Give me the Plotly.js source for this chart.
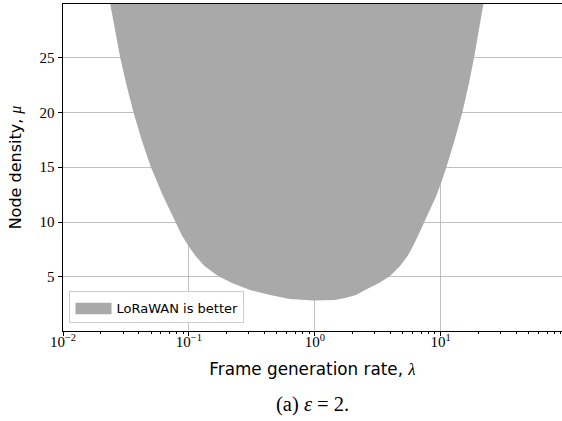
<!DOCTYPE html>
<html>
<head>
<meta charset="utf-8">
<script src="https://cdn.plot.ly/plotly-3.0.1.min.js"></script>
<style>
html,body{margin:0;padding:0;background:#fff;}
#chart{width:562px;height:421px;}
.legendfill path.js-fill{transform:scaleY(1.9);transform-box:fill-box;transform-origin:center;}
</style>
</head>
<body>
<div id="chart"></div>
<script>
// Boundary of the "LoRaWAN is better" region
// (left branch top -> bottom, then right branch bottom -> top; end points continue just above the visible top)
const lambdaBoundary = [0.02234, 0.02373, 0.02591, 0.02850, 0.03197, 0.03633, 0.04220, 0.04975, 0.06195, 0.07784,
                        0.08785, 0.09927, 0.1128, 0.1330, 0.1702, 0.2198, 0.3054, 0.4402, 0.6344, 0.9694,
                        1.449, 1.740, 2.127, 2.507, 3.237, 3.959, 4.750, 5.452, 6.029, 6.628,
                        7.409, 8.346, 9.262, 10.06, 11.12, 12.87, 14.84, 16.62, 18.38, 20.06, 21.78, 23.05];
const muBoundary     = [31.5, 29.88, 27.51, 24.98, 22.49, 20.0, 17.47, 15.04, 12.45, 10.02,
                        8.80, 7.80, 6.89, 5.98, 5.06, 4.43, 3.79, 3.33, 2.98, 2.83,
                        2.87, 3.06, 3.33, 3.79, 4.43, 5.06, 5.98, 6.89, 7.80, 8.80,
                        10.02, 11.27, 12.45, 13.55, 15.04, 17.47, 20.0, 22.49, 24.98, 27.51, 29.88, 31.5];
const seriesName = "LoRaWAN is better";
const xTickVals = [0.01, 0.1, 1, 10];
const xTickText = ["10<sup>−2</sup>", "10<sup>−1</sup>", "10<sup>0</sup>", "10<sup>1</sup>"];
const yTickVals = [5, 10, 15, 20, 25];
const xTitle = "Frame generation rate, <i style=\"font-family:'Liberation Serif'\">λ</i>";
const yTitle = "Node density, <i style=\"font-family:'Liberation Serif'\">μ</i>";
const caption = "(a) <i>ε</i> = 2.";

const minorVals = [];
for (let e = -2; e <= 1; e++) for (let m = 2; m <= 9; m++) minorVals.push(m * Math.pow(10, e));

const trace = {
  type: 'scatter', mode: 'lines',
  x: lambdaBoundary, y: muBoundary,
  fill: 'toself', fillcolor: '#a9a9a9',
  line: {width: 0, color: '#a9a9a9', shape: 'linear'},
  name: seriesName, showlegend: true, hoverinfo: 'skip'
};

const serif = "'Liberation Serif', 'DejaVu Serif', serif";
const sans = "'DejaVu Sans', sans-serif";

const layout = {
  width: 562, height: 421,
  margin: {l: 63, r: 0, t: 4, b: 90},
  paper_bgcolor: '#fff', plot_bgcolor: '#fff',
  showlegend: true,
  legend: {
    x: 0.013, y: 0.023, xanchor: 'left', yanchor: 'bottom',
    bgcolor: 'rgba(255,255,255,0.85)', bordercolor: '#cccccc', borderwidth: 1,
    itemwidth: 36,
    font: {family: sans, size: 13, color: '#000'}
  },
  xaxis: {
    type: 'log', range: [-2, 1.963],
    tickmode: 'array', tickvals: xTickVals, ticktext: xTickText,
    ticks: 'outside', ticklen: 4, tickwidth: 1, tickcolor: '#000',
    ticklabelstandoff: -7,
    showline: true, linecolor: '#000', linewidth: 1, mirror: true,
    showgrid: true, gridcolor: '#b0b0b0', gridwidth: 0.8,
    zeroline: false, layer: 'above traces',
    tickfont: {family: serif, size: 15, color: '#000'},
    minor: {tickmode: 'array', tickvals: minorVals, ticks: 'outside', ticklen: 2, tickcolor: '#000', showgrid: false},
    title: {text: xTitle, font: {family: sans, size: 16.8, color: '#000'}, standoff: 14}
  },
  yaxis: {
    range: [0.05, 29.9],
    tickmode: 'array', tickvals: yTickVals,
    ticks: 'outside', ticklen: 4.5, tickwidth: 1, tickcolor: '#000',
    showline: true, linecolor: '#000', linewidth: 1,
    showgrid: true, gridcolor: '#b0b0b0', gridwidth: 0.8,
    zeroline: false, layer: 'above traces',
    tickfont: {family: serif, size: 15, color: '#000'},
    title: {text: yTitle, font: {family: sans, size: 16, color: '#000'}, standoff: 13}
  },
  annotations: [{
    text: caption, xref: 'paper', yref: 'paper',
    x: 0.5, y: -0.225, xanchor: 'center', yanchor: 'middle', showarrow: false,
    font: {family: serif, size: 20.5, color: '#000'}
  }]
};

Plotly.newPlot('chart', [trace], layout, {staticPlot: true, displayModeBar: false});
</script>
</body>
</html>
